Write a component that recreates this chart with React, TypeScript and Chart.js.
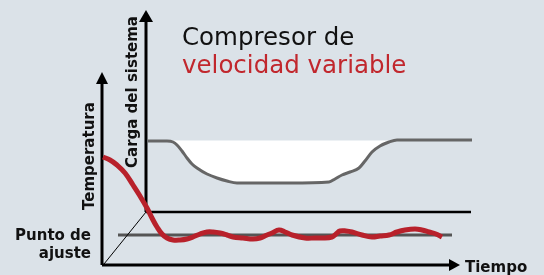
import React, { useEffect, useRef } from "react";
import { Chart, registerables } from "chart.js";

Chart.register(...registerables);

// Temperature curve (red): time, level
const redTime = [103,110,117,125,133,140,147,152,157,162,167,173,180,187,193,200,207,213,220,227,233,243,253,260,267,272,279,285,292,305,315,322,332,336,340,346,352,362,372,380,389,397,405,415,422,429,436,442];
const redTemp = [118,115,110,102,90,79,67,57,48,41,37,35,35,36,38,41,43,43,42,40,38,37,36,37,40,42,45,43,40,37,37,37,38,41,44,44,43,40,38,39,40,43,45,46,45,43,41,38];

// System load curve (grey)
const loadTime = [148,167,173,177,182,187,192,197,207,217,227,237,260,290,329,335,342,350,359,365,372,380,389,397,405,440,472];
const loadVal = [134,134,133,130,124,117,111,107,101,97,94,92,92,92,93,96,100,103,107,114,123,129,133,135,135,135,135];
const loadTop = 134.5;

// Set point
const setTime = [118, 452];
const setVal = 40;

// Axes
const tempAxisX = 102;
const timeAxisY = 10;
const timeAxisEnd = 449;
const timeArrowTip = 460;
const tempAxisTop = 191;
const tempArrowTip = 203;
const loadAxisX = 146;
const loadBaseY = 63;
const loadBaseEnd = 471;
const loadAxisTop = 253;
const loadArrowTip = 265;

const titleLine1 = "Compresor de";
const titleLine2 = "velocidad variable";
const tempLabel = "Temperatura";
const loadLabel = "Carga del sistema";
const setLabel1 = "Punto de";
const setLabel2 = "ajuste";
const timeLabel = "Tiempo";

const pts = (xs: number[], ys: number[]) => xs.map((x, i) => ({ x, y: ys[i] }));

const decorPlugin = {
  id: "decor",
  beforeDraw(chart: any) {
    const { ctx, width, height } = chart;
    ctx.save();
    ctx.fillStyle = "#dbe2e8";
    ctx.fillRect(0, 0, width, height);
    ctx.restore();
  },
  afterDraw(chart: any) {
    const { ctx } = chart;
    const xs = chart.scales.x;
    const ys = chart.scales.y;
    const px = (v: number) => xs.getPixelForValue(v);
    const py = (v: number) => ys.getPixelForValue(v);
    ctx.save();
    ctx.fillStyle = "#000";
    const tri = (a: number[], b: number[], c: number[]) => {
      ctx.beginPath();
      ctx.moveTo(a[0], a[1]);
      ctx.lineTo(b[0], b[1]);
      ctx.lineTo(c[0], c[1]);
      ctx.closePath();
      ctx.fill();
    };
    tri([px(tempAxisX), py(tempArrowTip)], [px(tempAxisX) - 6, py(tempAxisTop)], [px(tempAxisX) + 6, py(tempAxisTop)]);
    tri([px(loadAxisX), py(loadArrowTip)], [px(loadAxisX) - 7, py(loadAxisTop)], [px(loadAxisX) + 7, py(loadAxisTop)]);
    tri([px(timeArrowTip), py(timeAxisY)], [px(timeAxisEnd), py(timeAxisY) - 6], [px(timeAxisEnd), py(timeAxisY) + 6]);

    // titles
    ctx.font = "24.5px 'DejaVu Sans'";
    ctx.textBaseline = "alphabetic";
    ctx.textAlign = "left";
    ctx.fillStyle = "#111";
    ctx.fillText(titleLine1, 182, 45);
    ctx.fillStyle = "#c1272d";
    ctx.fillText(titleLine2, 182, 73);

    // bold labels
    ctx.fillStyle = "#111";
    ctx.font = "bold 15px 'DejaVu Sans'";
    ctx.textAlign = "right";
    ctx.fillText(setLabel1, 91, 240);
    ctx.fillText(setLabel2, 91, 258);
    ctx.textAlign = "left";
    ctx.fillText(timeLabel, 465, 272);

    ctx.save();
    ctx.translate(94, 210);
    ctx.rotate(-Math.PI / 2);
    ctx.textAlign = "left";
    ctx.fillText(tempLabel, 0, 0);
    ctx.restore();

    ctx.save();
    ctx.translate(137, 168);
    ctx.rotate(-Math.PI / 2);
    ctx.textAlign = "left";
    ctx.fillText(loadLabel, 0, 0);
    ctx.restore();

    ctx.restore();
  },
};

export default function App() {
  const ref = useRef<HTMLCanvasElement>(null);
  useEffect(() => {
    document.body.style.margin = "0";
    const canvas = ref.current!;
    const line = (data: any[], color: string, width: number, extra: any = {}) => ({
      type: "line",
      data,
      borderColor: color,
      borderWidth: width,
      pointRadius: 0,
      fill: false,
      tension: 0,
      ...extra,
    });
    const chart = new Chart(canvas, {
      type: "line",
      data: {
        datasets: [
          line(pts(redTime, redTemp), "#b8212b", 5, { tension: 0.4, borderCapStyle: "butt" }),
          line([{ x: tempAxisX, y: timeAxisY }, { x: tempAxisX, y: tempAxisTop }], "#000", 3),
          line([{ x: tempAxisX, y: timeAxisY }, { x: timeAxisEnd, y: timeAxisY }], "#000", 3),
          line([{ x: loadAxisX, y: loadBaseY }, { x: loadAxisX, y: loadAxisTop }], "#000", 3),
          line([{ x: loadAxisX, y: loadBaseY }, { x: loadBaseEnd, y: loadBaseY }], "#000", 2.5),
          line([{ x: tempAxisX + 2, y: timeAxisY + 1 }, { x: loadAxisX, y: loadBaseY }], "#000", 1),
          line(setTime.map((x) => ({ x, y: setVal })), "#555", 3),
          line(pts(loadTime, loadVal), "#666", 3, {
            cubicInterpolationMode: "monotone",
            fill: { value: loadTop },
            backgroundColor: "#ffffff",
          }),
        ] as any,
      },
      options: {
        animation: false,
        responsive: false,
        maintainAspectRatio: false,
        devicePixelRatio: 1,
        layout: { padding: 0 },
        plugins: { legend: { display: false }, tooltip: { enabled: false } },
        scales: {
          x: { type: "linear", min: 0, max: 544, display: false },
          y: { type: "linear", min: 0, max: 275, display: false },
        },
      } as any,
      plugins: [decorPlugin],
    });
    return () => chart.destroy();
  }, []);
  return (
    <div style={{ width: 544, height: 275 }}>
      <canvas ref={ref} width={544} height={275} style={{ display: "block" }} />
    </div>
  );
}
